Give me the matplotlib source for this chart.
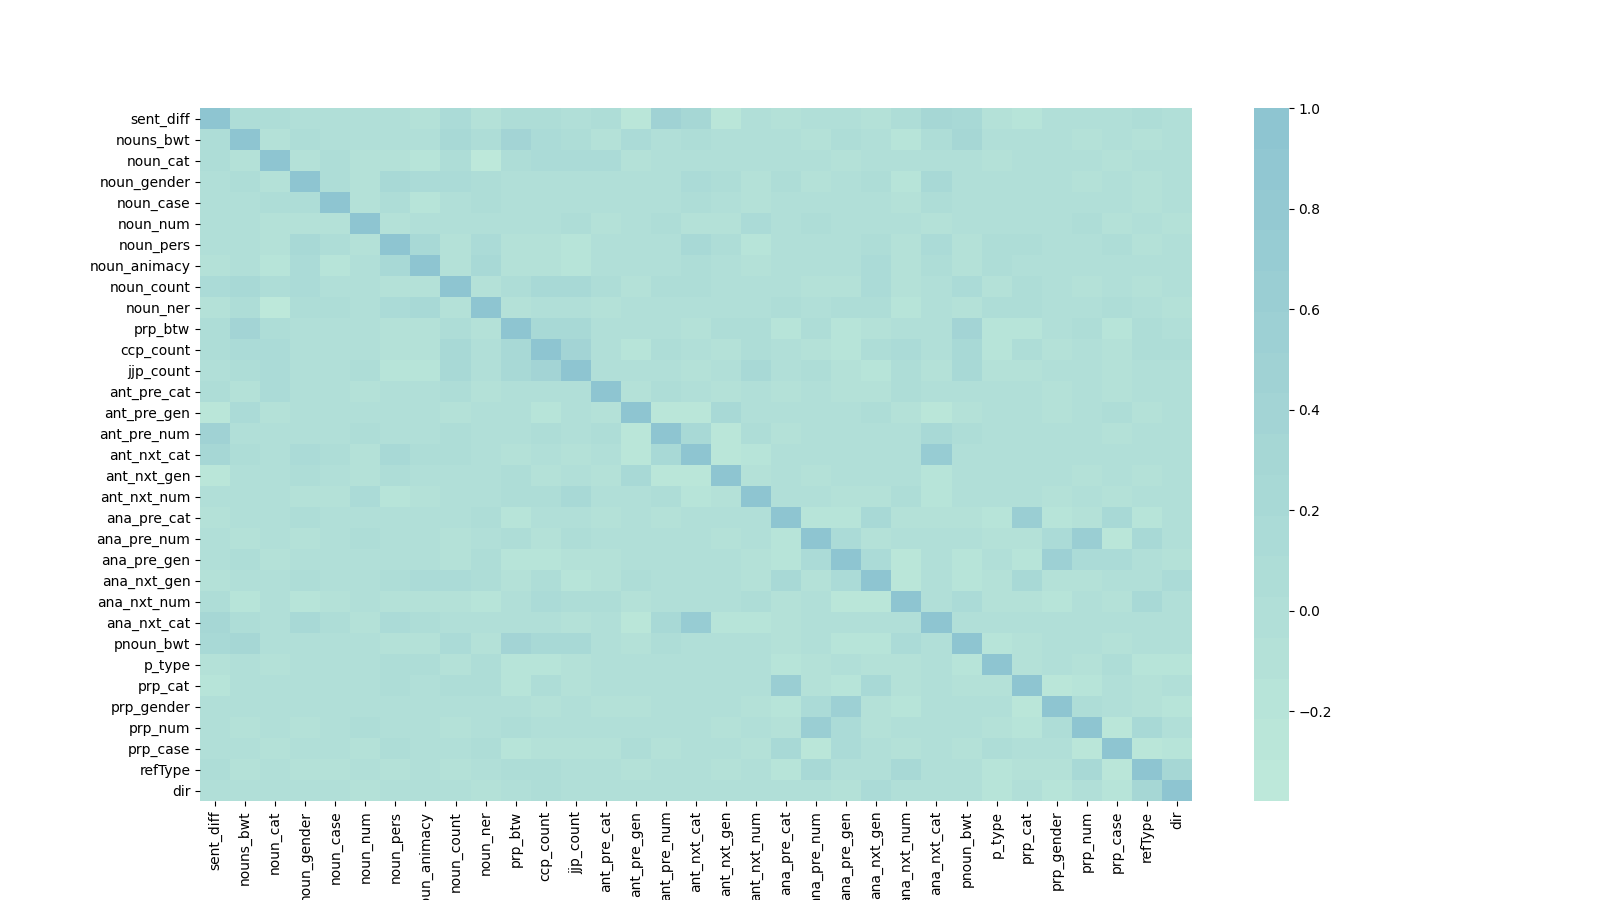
import matplotlib
matplotlib.use("Agg")
import matplotlib.pyplot as plt
from matplotlib.colors import LinearSegmentedColormap
import numpy as np
import seaborn as sns

labels = ["sent_diff", "nouns_bwt", "noun_cat", "noun_gender", "noun_case", "noun_num",
          "noun_pers", "noun_animacy", "noun_count", "noun_ner", "prp_btw", "ccp_count",
          "jjp_count", "ant_pre_cat", "ant_pre_gen", "ant_pre_num", "ant_nxt_cat",
          "ant_nxt_gen", "ant_nxt_num", "ana_pre_cat", "ana_pre_num", "ana_pre_gen",
          "ana_nxt_gen", "ana_nxt_num", "ana_nxt_cat", "pnoun_bwt", "p_type", "prp_cat",
          "prp_gender", "prp_num", "prp_case", "refType", "dir"]

# upper triangle of the correlation matrix (diagonal left out)
upper = [
    [.05, .07, -.02, -.02, -.02, -.05, -.1, .12, -.1, .05, .05, .01, .1, -.28, .48, .32, -.28, .02, -.08, -.02, 0, -.1, .07, .32, .25, -.08, -.18, .02, -.02, 0, .05, -.02],
    [-.07, .07, -.03, -.03, .02, -.05, .22, .07, .42, .12, .05, -.07, .12, -.02, .07, .02, .02, -.02, -.1, .05, .01, -.17, .08, .33, .02, .02, .01, -.1, .02, -.1, -.02],
    [-.1, .07, -.1, -.1, -.2, .07, -.3, .1, .15, .11, .13, -.07, -.03, -.03, -.02, -.02, -.03, -.02, -.07, -.02, .02, -.05, .02, -.08, -.02, -.03, -.05, -.1, .02, .02],
    [.05, -.1, .27, .12, .15, .09, -.02, .01, .02, .01, .02, .01, .15, .1, -.07, .04, -.07, 0, .08, -.2, .22, -.03, 0, 0, -.03, -.08, .02, -.07, -.04],
    [-.1, .05, -.2, 0, .07, -.02, .02, -.01, .01, .01, .02, .08, 0, -.07, 0, -.01, .02, .02, -.1, .08, -.01, .01, .01, .02, -.01, .02, -.08, 0],
    [-.08, -.02, 0, .01, 0, .01, .04, -.08, .01, .07, -.07, -.07, .15, -.02, .04, -.02, -.01, .02, -.07, .02, -.01, -.01, -.02, .05, -.07, .02, -.08],
    [.22, -.1, .12, -.09, -.09, -.15, -.03, -.02, -.02, .22, .05, -.16, 0, -.01, .02, .1, -.13, .15, -.07, .09, .04, -.03, -.03, .1, -.07, -.02],
    [-.08, .25, -.09, -.07, -.15, -.02, -.02, -.02, .07, .02, -.08, .01, -.02, .01, .11, -.08, .04, -.06, .09, .02, -.03, -.03, .02, 0, -.01],
    [-.07, .1, .24, .24, .09, -.08, .07, .05, .02, .02, .02, -.08, -.08, .11, -.08, .02, .15, -.09, .09, -.03, -.08, .01, -.08, -.01],
    [-.08, -.04, -.04, -.07, .02, 0, 0, -.01, .01, .05, 0, .05, .09, -.15, -.02, -.1, .09, .05, -.04, -.01, .04, 0, -.06],
    [.24, .23, -.01, .02, -.03, -.08, .04, .04, -.15, .05, -.14, -.1, .02, -.04, .4, -.16, -.17, -.04, .04, -.16, .07, -.03],
    [.42, -.03, -.14, .09, -.04, -.08, .1, 0, -.06, -.14, .06, .11, -.05, .27, -.16, .05, -.1, -.03, -.09, .04, .1],
    [.02, .02, .02, -.08, .01, .22, .01, .04, -.08, -.14, .05, -.08, .23, -.12, -.1, -.02, .02, -.08, .01, -.02],
    [-.1, .07, -.03, -.08, -.01, -.06, -.01, -.08, -.08, .08, -.02, 0, 0, 0, -.08, -.03, -.08, .02, -.04],
    [-.25, -.25, .22, 0, 0, -.03, -.03, .09, -.08, -.28, -.09, .02, .02, -.07, -.03, .05, -.09, -.04],
    [.27, -.25, .05, -.07, -.02, -.04, -.04, -.04, .24, .08, -.03, -.04, -.04, -.01, -.07, .02, -.03],
    [-.25, -.2, -.01, .02, -.02, -.02, -.02, .68, -.03, -.03, -.03, -.02, 0, -.02, -.02, -.02],
    [-.07, -.05, -.1, -.03, .01, -.02, -.2, .01, .01, -.02, -.01, -.08, .02, -.09, .02],
    [-.05, 0, -.09, -.09, .09, -.2, .01, 0, -.02, -.08, .01, -.08, .02, -.02],
    [-.16, -.15, .22, -.09, -.06, -.12, -.14, .67, -.2, -.13, .22, -.14, -.03],
    [.12, -.09, -.02, -.02, .02, -.1, -.13, .12, .65, -.26, .22, -.03],
    [.13, -.27, -.03, -.14, -.05, -.18, .55, .12, .18, 0, -.12],
    [-.27, -.04, -.2, -.1, .25, -.08, -.07, -.01, .02, .15],
    [-.04, .18, -.08, -.13, -.2, -.01, -.07, .22, -.02],
    [.01, -.01, -.02, -.03, -.01, -.02, -.02, -.02],
    [-.15, -.13, -.04, 0, -.13, 0, -.04],
    [-.13, -.03, -.09, .1, -.14, -.14],
    [-.23, -.15, 0, -.08, -.03],
    [.1, .02, -.07, -.17],
    [-.26, .23, 0],
    [-.25, -.17],
    [.3],
]

n = len(labels)
corr = np.eye(n)
for i, row in enumerate(upper):
    for j, val in enumerate(row):
        corr[i, i + 1 + j] = val
        corr[i + 1 + j, i] = val

cmap = LinearSegmentedColormap.from_list("mint", ["#bde8da", "#8ec5d1"], N=17)

plt.figure(figsize=(16, 9), dpi=100)
ax = sns.heatmap(corr, cmap=cmap, vmin=-0.378, vmax=1.0,
                 xticklabels=labels, yticklabels=labels)
plt.setp(ax.get_yticklabels(), va="center_baseline")

plt.savefig("out.png")
